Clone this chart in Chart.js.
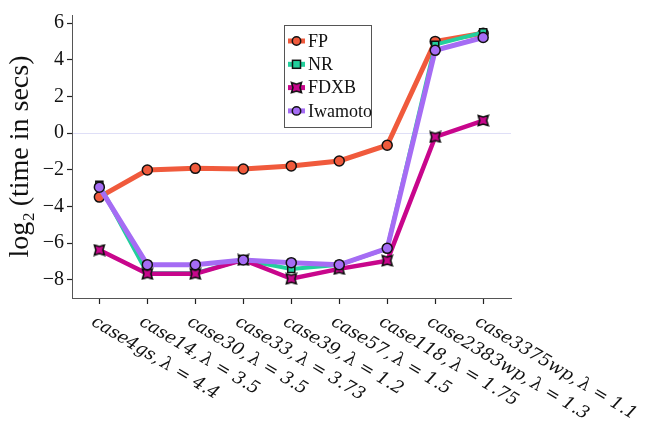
<!DOCTYPE html>
<html>
<head>
<meta charset="utf-8">
<script src="https://cdn.jsdelivr.net/npm/chart.js@4/dist/chart.umd.min.js"></script>
<style>
  html, body { margin: 0; padding: 0; background: #fff; }
  #wrap { width: 646px; height: 422px; }
</style>
</head>
<body>
<div id="wrap"><canvas id="grafico" width="646" height="422"></canvas></div>
<script>
// casos de prueba (eje x)
const casos = ['case4gs,\u2009λ = 4.4', 'case14,\u2009λ = 3.5', 'case30,\u2009λ = 3.5', 'case33,\u2009λ = 3.73',
    'case39,\u2009λ = 1.2', 'case57,\u2009λ = 1.5', 'case118,\u2009λ = 1.75', 'case2383wp,\u2009λ = 1.3', 'case3375wp,\u2009λ = 1.1'];

// log2 del tiempo en segundos
const tiemposFP = [-3.49, -2.01, -1.92, -1.96, -1.79, -1.52, -0.66, 5.01, 5.45];
const tiemposNR = [-2.82, -7.65, -7.65, -6.92, -7.41, -7.19, -6.30, 4.83, 5.50];
const tiemposFDXB = [-6.38, -7.68, -7.68, -6.92, -7.95, -7.41, -6.96, -0.21, 0.69];
const tiemposIwamoto = [-2.95, -7.18, -7.18, -6.92, -7.07, -7.19, -6.29, 4.52, 5.22];

const ticksY = [-8, -6, -4, -2, 0, 2, 4, 6];

// marcador tipo "moño" para FDXB
function marcadorFDXB() {
    const c = document.createElement('canvas');
    c.width = 13; c.height = 13;
    const g = c.getContext('2d');
    g.beginPath();
    g.moveTo(1.5, 1.5);
    g.lineTo(6.5, 3); g.lineTo(11.5, 1.5);
    g.lineTo(10, 6.5); g.lineTo(11.5, 11.5);
    g.lineTo(6.5, 10); g.lineTo(1.5, 11.5);
    g.lineTo(3, 6.5);
    g.closePath();
    g.fillStyle = '#c8068c';
    g.fill();
    g.lineWidth = 1.6;
    g.strokeStyle = '#111';
    g.stroke();
    return c;
}
const estiloFDXB = marcadorFDXB();

function serie(nombre, valores, color, estilo, orden, ancho) {
    return {
        label: nombre,
        data: valores.map((v, i) => ({ x: i, y: v })),
        borderColor: color,
        backgroundColor: color,
        borderWidth: ancho,
        pointStyle: estilo,
        pointRadius: 5,
        pointBorderColor: '#111',
        pointBorderWidth: 1.5,
        pointBackgroundColor: color,
        order: orden,
        tension: 0
    };
}

// leyenda dentro del area del grafico
const leyenda = {
    id: 'leyenda',
    afterDraw(chart) {
        const ctx = chart.ctx;
        ctx.save();
        ctx.fillStyle = '#fff';
        ctx.fillRect(284.5, 25.5, 87, 102);
        ctx.strokeStyle = '#555';
        ctx.lineWidth = 1;
        ctx.strokeRect(284.5, 25.5, 87, 102);
        ctx.font = '18px "Liberation Serif"';
        ctx.textBaseline = 'middle';
        chart.data.datasets.forEach((ds, i) => {
            const y = 41 + i * 23.3;
            ctx.strokeStyle = ds.borderColor;
            ctx.lineWidth = 5;
            ctx.beginPath();
            ctx.moveTo(288, y);
            ctx.lineTo(305, y);
            ctx.stroke();
            ctx.lineWidth = 1.5;
            ctx.strokeStyle = '#111';
            ctx.fillStyle = ds.borderColor;
            if (ds.pointStyle === 'circle') {
                ctx.beginPath();
                ctx.arc(296.5, y, 4.2, 0, Math.PI * 2);
                ctx.fill(); ctx.stroke();
            } else if (ds.pointStyle === 'rect') {
                ctx.fillRect(292.5, y - 4, 8, 8);
                ctx.strokeRect(292.5, y - 4, 8, 8);
            } else {
                ctx.drawImage(ds.pointStyle, 290, y - 6.5);
            }
            ctx.fillStyle = '#111';
            ctx.fillText(ds.label, 308, y + 1);
        });
        ctx.restore();
    }
};

// etiquetas del eje x inclinadas hacia abajo
const etiquetasX = {
    id: 'etiquetasX',
    afterDraw(chart) {
        const ctx = chart.ctx;
        const escala = chart.scales.x;
        ctx.save();
        ctx.font = 'italic 17.6px "DejaVu Serif"';
        ctx.fillStyle = '#111';
        ctx.textBaseline = 'top';
        ctx.textAlign = 'left';
        casos.forEach((txt, i) => {
            const x = escala.getPixelForValue(i);
            ctx.save();
            ctx.translate(x - 2, 313);
            ctx.rotate(31 * Math.PI / 180);
            ctx.fillText(txt, 0, 0);
            ctx.restore();
        });
        ctx.restore();
    }
};

new Chart(document.getElementById('grafico'), {
    type: 'line',
    data: {
        datasets: [
            serie('FP', tiemposFP, '#f05a3c', 'circle', 3, 5),
            serie('NR', tiemposNR, '#22cf9c', 'rect', 2, 4),
            serie('FDXB', tiemposFDXB, '#c8068c', estiloFDXB, 1, 4.5),
            serie('Iwamoto', tiemposIwamoto, '#a56cf4', 'circle', 0, 5)
        ]
    },
    options: {
        responsive: false,
        animation: false,
        layout: { padding: { top: 12, right: 135, left: 4, bottom: 0 } },
        plugins: {
            legend: { display: false },
            tooltip: { enabled: false }
        },
        scales: {
            x: {
                type: 'linear',
                min: -0.57,
                max: 8.58,
                afterBuildTicks(scale) {
                    scale.ticks = casos.map((c, i) => ({ value: i }));
                },
                afterFit(scale) { scale.height = 124; },
                ticks: { callback: () => '' },
                border: { color: '#555', width: 1 },
                grid: { drawOnChartArea: false, tickLength: 6, tickColor: '#222', tickWidth: 1.2 }
            },
            y: {
                min: -9.0,
                max: 6.45,
                afterBuildTicks(scale) {
                    scale.ticks = ticksY.map(v => ({ value: v }));
                },
                afterFit(scale) { scale.width = 68; },
                ticks: {
                    font: { family: 'Liberation Serif', size: 20 },
                    color: '#111',
                    padding: 3,
                    callback: v => (v < 0 ? '\u2212' + Math.abs(v) : String(v))
                },
                title: {
                    display: true,
                    text: 'log\u2082\u2009(time in secs)',
                    font: { family: 'Liberation Serif', size: 28 },
                    color: '#111',
                    padding: 0
                },
                border: { color: '#555', width: 1 },
                grid: {
                    color: ctx => (ctx.tick && ctx.tick.value === 0 ? 'rgba(215,215,245,0.8)' : 'rgba(0,0,0,0)'),
                    tickLength: 5,
                    tickColor: '#222',
                    tickWidth: 1.2
                }
            }
        }
    },
    plugins: [leyenda, etiquetasX]
});
</script>
</body>
</html>
